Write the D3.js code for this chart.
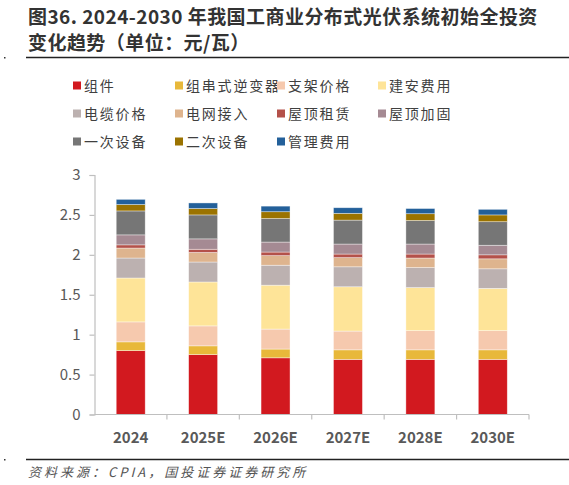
<!DOCTYPE html>
<html>
<head>
<meta charset="utf-8">
<script src="https://cdn.jsdelivr.net/npm/d3@7"></script>
<style>
  body { margin: 0; background: #fff; }
  text { font-family: "Noto Sans CJK SC", "Liberation Sans", sans-serif; }
</style>
</head>
<body>
<svg id="chart"></svg>
<script>
// categories and series (元/瓦)
const years = ["2024", "2025E", "2026E", "2027E", "2028E", "2030E"]
const seriesNames = ["组件", "组串式逆变器", "支架价格", "建安费用", "电缆价格", "电网接入",
                     "屋顶租赁", "屋顶加固", "一次设备", "二次设备", "管理费用"]
const seriesColors = ["#d2191f", "#e8b83a", "#f6c9ae", "#fee498", "#bcb1b0", "#deb48e",
                      "#b4514a", "#a58a93", "#767676", "#9b7300", "#23609a"]

const modules     = [0.80, 0.75, 0.71, 0.69, 0.69, 0.69]
const inverters   = [0.11, 0.11, 0.11, 0.12, 0.12, 0.12]
const brackets    = [0.25, 0.25, 0.25, 0.235, 0.24, 0.24]
const construct   = [0.55, 0.55, 0.55, 0.555, 0.54, 0.53]
const cables      = [0.25, 0.25, 0.25, 0.25, 0.25, 0.245]
const gridAccess  = [0.125, 0.12, 0.12, 0.115, 0.12, 0.125]
const roofRent    = [0.04, 0.04, 0.045, 0.045, 0.05, 0.05]
const roofFix     = [0.125, 0.13, 0.125, 0.125, 0.125, 0.12]
const primaryEq   = [0.30, 0.30, 0.295, 0.30, 0.295, 0.295]
const secondaryEq = [0.08, 0.08, 0.085, 0.085, 0.085, 0.085]
const management  = [0.065, 0.07, 0.07, 0.07, 0.065, 0.07]

const yTicks = [0, 0.5, 1, 1.5, 2, 2.5, 3]

const series = [modules, inverters, brackets, construct, cables, gridAccess,
                roofRent, roofFix, primaryEq, secondaryEq, management]

let w = 569
let h = 485
let svg = d3.select("#chart").attr("width", w).attr("height", h)

// title
let title = svg.append("g").attr("fill", "#333").attr("font-size", 19).attr("font-weight", 600)
    .attr("letter-spacing", 0.45)
title.append("text").attr("x", 28).attr("y", 24).text("图36. 2024-2030 年我国工商业分布式光伏系统初始全投资")
title.append("text").attr("x", 28).attr("y", 50).text("变化趋势（单位：元/瓦）")

svg.append("line").attr("x1", 26).attr("x2", w).attr("y1", 57.5).attr("y2", 57.5)
    .attr("stroke", "#222").attr("stroke-width", 1.6)
svg.append("line").attr("x1", 26).attr("x2", w).attr("y1", 459.5).attr("y2", 459.5)
    .attr("stroke", "#222").attr("stroke-width", 1.6)
svg.append("rect").attr("x", 4).attr("y", 57).attr("width", 1.5).attr("height", 1.5).attr("fill", "#333")
svg.append("rect").attr("x", 4).attr("y", 459).attr("width", 1.5).attr("height", 1.5).attr("fill", "#333")

svg.append("text").attr("x", 28).attr("y", 477)
    .attr("font-size", 13).attr("font-style", "italic").attr("fill", "#555")
    .attr("letter-spacing", 3)
    .text("资料来源：CPIA，国投证券证券研究所")

// legend
let legend = svg.append("g")
let colX = [73, 175, 277, 378]
let rowY = [86, 114, 142]
seriesNames.forEach((name, i) => {
    let gx = colX[i % 4], gy = rowY[Math.floor(i / 4)]
    legend.append("rect").attr("x", gx).attr("y", gy - 4.5).attr("width", 8).attr("height", 8)
        .attr("fill", seriesColors[i])
    legend.append("text").attr("x", gx + 11).attr("y", gy + 5)
        .attr("font-size", 14).attr("fill", "#404040").attr("letter-spacing", 1.8)
        .text(name)
})

// plot
let margin = { left: 94.5, right: 529, top: 175, bottom: 414.5 }
let x = d3.scaleBand().domain(years).range([margin.left, margin.right]).paddingInner(0.6).paddingOuter(0.3)
let y = d3.scaleLinear().domain([0, 3]).range([margin.bottom, margin.top])

let table = years.map((yr, j) => {
    let row = { year: yr }
    seriesNames.forEach((n, i) => row[n] = series[i][j])
    return row
})
let stacked = d3.stack().keys(seriesNames)(table)

svg.append("g").selectAll("g")
    .data(stacked)
    .join("g")
    .attr("fill", (d, i) => seriesColors[i])
    .selectAll("rect")
    .data(d => d)
    .join("rect")
    .attr("x", d => x(d.data.year))
    .attr("width", x.bandwidth())
    .attr("y", d => y(d[1]))
    .attr("height", d => y(d[0]) - y(d[1]))
    .attr("stroke", "#fff")
    .attr("stroke-opacity", 0.55)
    .attr("stroke-width", 0.7)

// axes
let xAxisScale = d3.scaleBand().domain(years).range([margin.left, margin.right])
let xAxis = svg.append("g").attr("transform", `translate(0,${margin.bottom})`)
xAxis.append("line").attr("x1", margin.left).attr("x2", margin.right).attr("stroke", "#bfbfbf").attr("stroke-width", 1.2)
xAxis.selectAll("line.tick")
    .data(years)
    .join("line")
    .attr("class", "tick")
    .attr("x1", d => xAxisScale(d) + xAxisScale.bandwidth())
    .attr("x2", d => xAxisScale(d) + xAxisScale.bandwidth())
    .attr("y1", 0).attr("y2", 5)
    .attr("stroke", "#bfbfbf").attr("stroke-width", 1.2)
xAxis.selectAll("text")
    .data(years)
    .join("text")
    .attr("x", d => xAxisScale(d) + xAxisScale.bandwidth() / 2)
    .attr("y", 28)
    .attr("text-anchor", "middle")
    .attr("font-family", "Liberation Sans, Arial, sans-serif")
    .attr("font-size", 15).attr("font-weight", 700).attr("fill", "#595959")
    .text(d => d)

let yAxis = svg.append("g")
    .attr("transform", `translate(${margin.left},0)`)
    .call(d3.axisLeft(y).tickValues(yTicks).tickSize(5).tickPadding(9).tickFormat(d3.format("")))
yAxis.select(".domain").attr("stroke", "#bfbfbf").attr("stroke-width", 1.2)
yAxis.selectAll(".tick line").attr("stroke", "#bfbfbf").attr("stroke-width", 1.2)
yAxis.selectAll(".tick text")
    .attr("font-family", "Liberation Sans, Arial, sans-serif")
    .attr("font-size", 15).attr("fill", "#595959")
</script>
</body>
</html>
